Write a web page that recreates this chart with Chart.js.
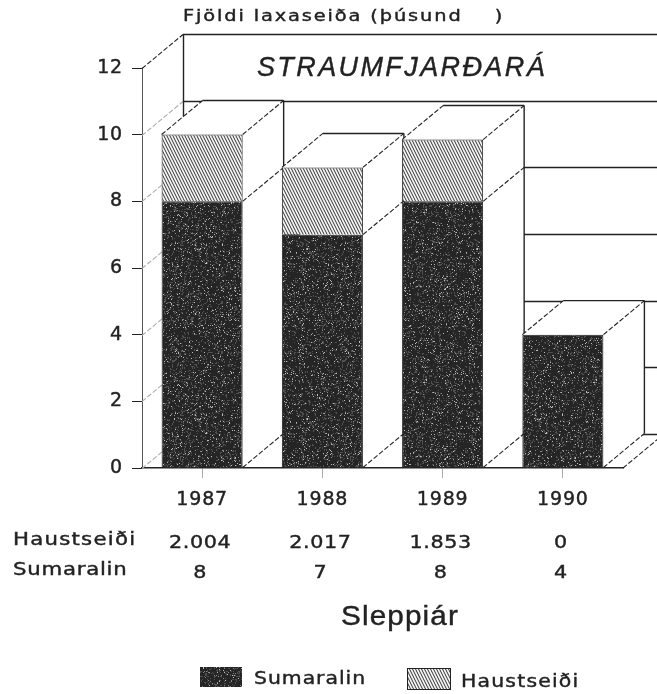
<!DOCTYPE html>
<html>
<head>
<meta charset="utf-8">
<title>Straumfjarðará</title>
<style>
  html, body { margin: 0; padding: 0; background: #fff; }
  canvas { display: block; }
</style>
<script src="https://cdn.jsdelivr.net/npm/chart.js@4"></script>
</head>
<body>
<canvas id="chart" width="657" height="694"></canvas>
<script>
// Chart data
const years = ['1987', '1988', '1989', '1990'];
const sumaralin = [8, 7, 8, 4];
const haustseidi = [2.004, 2.017, 1.853, 0];
const yTicks = [0, 2, 4, 6, 8, 10, 12];

// Table rows under the axis
const haustRow = ['2.004', '2.017', '1.853', '0'];
const sumarRow = ['8', '7', '8', '4'];

const INK = '#222';
const DEPTH_X = 41;
const DEPTH_Y = 34;

// Speckled fill for the dark segments (fixed sequence so it looks the same each run)
function speckle() {
    const size = 170;
    const c = document.createElement('canvas');
    c.width = c.height = size;
    const g = c.getContext('2d');
    g.fillStyle = '#252525';
    g.fillRect(0, 0, size, size);
    let seed = 2024;
    const next = () => {
        seed ^= seed << 13;
        seed ^= seed >>> 17;
        seed ^= seed << 5;
        return seed >>> 0;
    };
    for (let i = 0; i < 5200; i++) {
        const x = next() % size;
        const y = next() % size;
        const kind = next() % 6;
        g.fillStyle = kind === 0 ? '#bdbdbd' : kind === 1 ? '#8a8a8a' : '#505050';
        g.fillRect(x, y, kind === 2 ? 2 : 1, kind === 3 ? 2 : 1);
    }
    return g.createPattern(c, 'repeat');
}

// Steep diagonal hatch for the light segments
function hatch() {
    const c = document.createElement('canvas');
    c.width = 3;
    c.height = 6;
    const g = c.getContext('2d');
    g.fillStyle = '#f4f4f4';
    g.fillRect(0, 0, 3, 6);
    g.strokeStyle = '#333';
    g.lineWidth = 1;
    g.beginPath();
    g.moveTo(-1, -2); g.lineTo(4, 8);
    g.moveTo(2, -2); g.lineTo(7, 8);
    g.moveTo(-4, -2); g.lineTo(1, 8);
    g.stroke();
    return g.createPattern(c, 'repeat');
}

const darkFill = speckle();
const hatchFill = hatch();

function line(ctx, x1, y1, x2, y2, dashed, color) {
    ctx.save();
    ctx.strokeStyle = color || INK;
    ctx.lineWidth = dashed ? 1.1 : 1.4;
    ctx.setLineDash(dashed ? [5, 2] : []);
    ctx.beginPath();
    ctx.moveTo(x1, y1);
    ctx.lineTo(x2, y2);
    ctx.stroke();
    ctx.restore();
}

// Text with a horizontal stretch, the printed letters are wider than any installed font
function label(ctx, text, x, y, font, align, spacing, stretch) {
    ctx.save();
    ctx.translate(x, y);
    ctx.scale(stretch || 1, 1);
    ctx.fillStyle = INK;
    ctx.strokeStyle = INK;
    ctx.lineWidth = 0.4;
    ctx.font = font;
    ctx.textAlign = align || 'left';
    ctx.textBaseline = 'middle';
    ctx.letterSpacing = spacing || '0px';
    ctx.fillText(text, 0, 0);
    ctx.strokeText(text, 0, 0);
    ctx.restore();
}

// Back wall, floor and the side faces of the bars
const depthPlugin = {
    id: 'depth',
    beforeDraw(chart) {
        chart.ctx.letterSpacing = '0.8px';
    },
    beforeDatasetsDraw(chart) {
        const ctx = chart.ctx;
        const y = chart.scales.y;
        const area = chart.chartArea;
        const backLeft = area.left + DEPTH_X;
        const wallRight = chart.width;

        yTicks.forEach(t => {
            const py = Math.round(y.getPixelForValue(t)) + 0.5;
            line(ctx, area.left, py, backLeft, py - DEPTH_Y, true, t === 12 ? INK : '#aaa');
            line(ctx, backLeft, py - DEPTH_Y, wallRight, py - DEPTH_Y);
        });
        line(ctx, backLeft + 0.5, y.getPixelForValue(12) - DEPTH_Y, backLeft + 0.5, y.getPixelForValue(0) - DEPTH_Y);
        line(ctx, area.right, y.getPixelForValue(0), area.right + DEPTH_X, y.getPixelForValue(0) - DEPTH_Y, true);

        const lower = chart.getDatasetMeta(0).data;
        const upper = chart.getDatasetMeta(1).data;
        lower.forEach((bar, i) => {
            const left = bar.x - bar.width / 2;
            const right = bar.x + bar.width / 2;
            const top = haustseidi[i] > 0 ? upper[i].y : bar.y;
            const base = bar.base;

            ctx.fillStyle = '#fff';
            ctx.beginPath();
            ctx.moveTo(left, top);
            ctx.lineTo(left + DEPTH_X, top - DEPTH_Y);
            ctx.lineTo(right + DEPTH_X, top - DEPTH_Y);
            ctx.lineTo(right + DEPTH_X, base - DEPTH_Y);
            ctx.lineTo(right, base);
            ctx.closePath();
            ctx.fill();

            line(ctx, left, top, left + DEPTH_X, top - DEPTH_Y, true);
            line(ctx, left + DEPTH_X, top - DEPTH_Y, right + DEPTH_X, top - DEPTH_Y);
            line(ctx, right + DEPTH_X, top - DEPTH_Y, right + DEPTH_X, base - DEPTH_Y);
            line(ctx, right, top, right + DEPTH_X, top - DEPTH_Y, true);
            line(ctx, right, base, right + DEPTH_X, base - DEPTH_Y, true);
            if (haustseidi[i] > 0) {
                line(ctx, right, bar.y, right + DEPTH_X, bar.y - DEPTH_Y, true);
            }
        });
    },
    afterDraw(chart) {
        const ctx = chart.ctx;
        const x = chart.scales.x;
        const sans = 'DejaVu Sans';

        label(ctx, 'Fjöldi laxaseiða (þúsund    )', 183, 17, '15.5px "' + sans + '"', 'left', '1.5px', 1.25);
        label(ctx, 'STRAUMFJARÐARÁ', 402, 68, 'italic 27px "Liberation Sans"', 'center', '2.4px');

        label(ctx, 'Haustseiði', 13, 541, '17px "' + sans + '"', 'left', '1px', 1.25);
        label(ctx, 'Sumaralin', 13, 571, '17px "' + sans + '"', 'left', '0.6px', 1.25);
        years.forEach((yr, i) => {
            const px = x.getPixelForValue(i) - 2;
            label(ctx, haustRow[i], px, 543, '18px "' + sans + '"', 'center', '0.5px', 1.15);
            label(ctx, sumarRow[i], px, 573, '18px "' + sans + '"', 'center', '0.5px', 1.15);
        });

        label(ctx, 'Sleppiár', 400, 618, '27px "Liberation Sans"', 'center', '1px', 1.1);

        // Legend
        const legendFont = '17px "' + sans + '"';
        ctx.fillStyle = darkFill;
        ctx.fillRect(200, 667, 42, 20);
        label(ctx, chart.data.datasets[0].label, 254, 680, legendFont, 'left', '0.8px', 1.2);
        ctx.fillStyle = hatchFill;
        ctx.fillRect(407, 668, 43, 21);
        ctx.strokeStyle = INK;
        ctx.strokeRect(407.5, 668.5, 43, 21);
        label(ctx, chart.data.datasets[1].label, 461, 683, legendFont, 'left', '1px', 1.2);
    }
};

const chart = new Chart(document.getElementById('chart'), {
    type: 'bar',
    data: {
        labels: years,
        datasets: [
            {
                label: 'Sumaralin',
                data: sumaralin,
                backgroundColor: darkFill,
                borderColor: '#222',
                borderWidth: 1,
                barPercentage: 0.674,
                categoryPercentage: 1
            },
            {
                label: 'Haustseiði',
                data: haustseidi,
                backgroundColor: hatchFill,
                borderColor: '#222',
                borderWidth: 1,
                barPercentage: 0.674,
                categoryPercentage: 1
            }
        ]
    },
    options: {
        responsive: false,
        animation: false,
        layout: { padding: { top: 68, right: 34 } },
        plugins: {
            legend: { display: false },
            tooltip: { enabled: false }
        },
        scales: {
            x: {
                stacked: true,
                afterFit: scale => { scale.height = 226; },
                border: { color: INK, width: 1.5 },
                grid: { offset: false, drawOnChartArea: false, tickLength: 10, color: '#aaa' },
                ticks: {
                    color: INK,
                    padding: 11,
                    textStrokeColor: INK,
                    textStrokeWidth: 0.4,
                    font: { family: 'DejaVu Sans', size: 19 }
                }
            },
            y: {
                stacked: true,
                min: 0,
                max: 12,
                afterFit: scale => { scale.width = 142; },
                border: { color: '#555', width: 1 },
                grid: { drawOnChartArea: false, tickLength: 10, color: INK },
                ticks: {
                    stepSize: 2,
                    color: INK,
                    padding: 9,
                    textStrokeColor: INK,
                    textStrokeWidth: 0.4,
                    font: { family: 'DejaVu Sans', size: 19 }
                }
            }
        }
    },
    plugins: [depthPlugin]
});
</script>
</body>
</html>
